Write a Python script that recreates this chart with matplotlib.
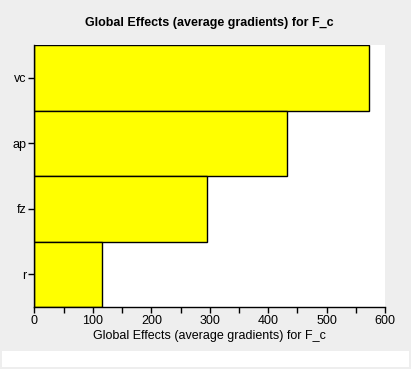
import matplotlib.pyplot as plt
from matplotlib.patches import Rectangle
import numpy as np

categories = ["vc", "ap", "fz", "r"]
values = [573, 433, 296, 116]
title = "Global Effects (average gradients) for F_c"

plt.rcParams['font.family'] = ['Liberation Sans', 'DejaVu Sans']

fig = plt.figure(figsize=(4.11, 3.69), dpi=100, facecolor='#eeeeee')
ax = fig.add_axes([0.0839, 0.168, 0.853, 0.710])
ax.set_facecolor('white')

ind = np.arange(len(categories))
ax.barh(ind, values, height=1.0, color='#ffff00', edgecolor='black', linewidth=1.0)

ax.set_ylim(len(categories) - 0.5, -0.5)
ax.set_xlim(0, 600)
ax.set_yticks(ind)
ax.set_yticklabels(categories)
ax.set_xticks(np.arange(0, 601, 100))
ax.set_xticks(np.arange(50, 600, 100), minor=True)

for s in ['top', 'right']:
    ax.spines[s].set_visible(False)
for s in ['left', 'bottom']:
    ax.spines[s].set_linewidth(1.0)

ax.tick_params(axis='both', which='major', length=4, width=1.0, labelsize=9, pad=2)
ax.tick_params(axis='x', which='minor', length=4, width=1.0)
ax.set_xlabel(title, fontsize=9, labelpad=2)
ax.set_title(title, fontsize=9, fontweight='bold', pad=14)

fig.patches.append(Rectangle((2 / 411, 2 / 369), 407 / 411, 16 / 369,
                             transform=fig.transFigure, facecolor='white',
                             edgecolor='none'))

plt.savefig('out.png', dpi=100, facecolor=fig.get_facecolor())
